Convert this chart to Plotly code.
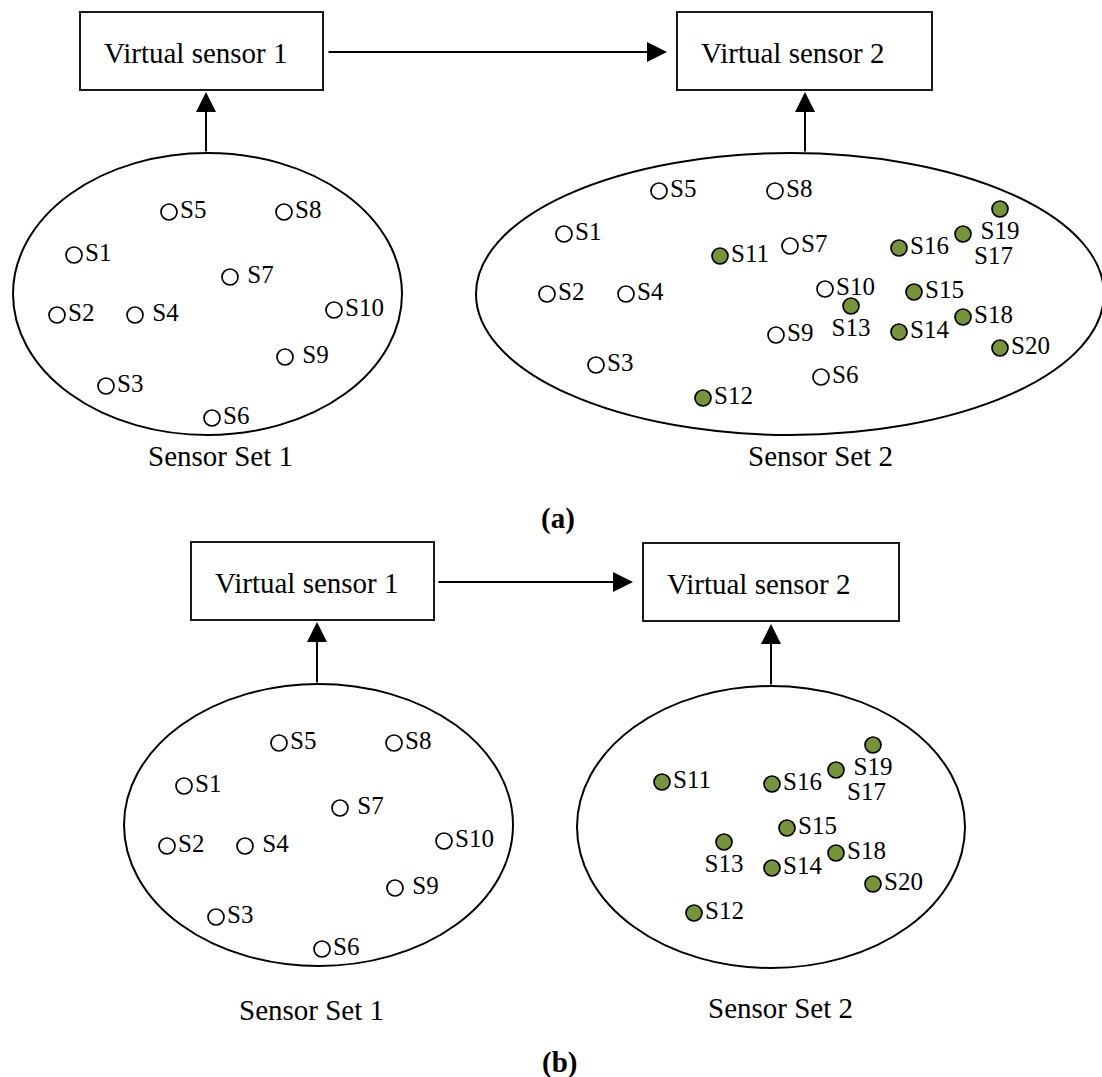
import plotly.graph_objects as go

# ---------------- data ----------------
set1_names = ["S1", "S2", "S3", "S4", "S5", "S6", "S7", "S8", "S9", "S10"]
set2_names = ["S11", "S12", "S13", "S14", "S15", "S16", "S17", "S18", "S19", "S20"]

# panel (a) – sensor set 1
a1_x = [74, 57, 106, 135, 169, 212, 230, 284, 285, 334]
a1_y = [255, 315, 386, 315, 212, 418, 277, 212, 357, 310]
a1_labels = ["S1", "S2", "S3", " S4", "S5", "S6", " S7", "S8", " S9", "S10"]

# panel (a) – sensor set 2 (old sensors, white)
a2w_x = [564, 547, 596, 626, 659, 821, 790, 775, 776, 825]
a2w_y = [234, 294, 365, 294, 191, 377, 246, 191, 335, 289]
# panel (a) – sensor set 2 (new sensors, green)
a2g_x = [720, 703, 851, 899, 914, 899, 963, 963, 1000, 1000]
a2g_y = [256, 398, 306, 332, 292, 248, 234, 317, 209, 348]

# panel (b) – sensor set 1
b1_x = [184, 167, 216, 245, 279, 322, 340, 394, 395, 444]
b1_y = [786, 846, 917, 846, 743, 949, 808, 743, 888, 841]
# panel (b) – sensor set 2 (green only)
b2_x = [662, 694, 724, 772, 787, 772, 836, 836, 873, 873]
b2_y = [782, 913, 842, 868, 828, 784, 770, 853, 745, 884]

green_pos = ["middle right", "middle right", "bottom center", "middle right", "middle right",
             "middle right", "bottom right", "middle right", "bottom center", "middle right"]

# diagram structure (pixel space)
boxes = [(80, 12, 323, 90), (677, 12, 932, 90), (191, 542, 434, 620), (643, 543, 899, 621)]
box_texts = [("Virtual sensor 1", 102, 53), ("Virtual sensor 2", 699, 53),
             ("Virtual sensor 1", 213, 583), ("Virtual sensor 2", 665, 584)]
ellipses = [(13, 153, 402, 435), (476, 153, 1104, 435), (124, 684, 513, 966), (577, 686, 965, 968)]
arrows = [((327, 52), (667, 52)), ((206, 153), (206, 92)), ((805, 153), (805, 92)),
          ((437, 582), (633, 582)), ((317, 684), (317, 622)), ((771, 686), (771, 624))]
captions = [("Sensor Set 1", 220, 456, False), ("Sensor Set 2", 820, 456, False), ("(a)", 558, 518, True),
            ("Sensor Set 1", 311, 1010, False), ("Sensor Set 2", 780, 1008, False), ("(b)", 559, 1062, True)]

W, H = 1102, 1077
FONT = "Liberation Serif, Times New Roman, serif"
GREEN = "#77933C"

fig = go.Figure()

def add_sensors(xs, ys, labels, fill, positions):
    fig.add_trace(go.Scatter(
        x=xs, y=ys, mode="markers+text", text=labels, textposition=positions,
        marker=dict(size=16, color=fill, line=dict(color="black", width=1.7)),
        textfont=dict(family=FONT, size=25, color="black"),
        hoverinfo="skip", cliponaxis=False))

add_sensors(a1_x, a1_y, a1_labels, "white", "middle right")
add_sensors(a2w_x, a2w_y, set1_names, "white", "middle right")
add_sensors(a2g_x, a2g_y, set2_names, GREEN, green_pos)
add_sensors(b1_x, b1_y, a1_labels, "white", "middle right")
add_sensors(b2_x, b2_y, set2_names, GREEN, green_pos)

for (x0, y0, x1, y1) in boxes:
    fig.add_shape(type="rect", x0=x0, y0=y0, x1=x1, y1=y1, xref="x", yref="y",
                  line=dict(color="#1a1a1a", width=2), fillcolor="rgba(0,0,0,0)", layer="below")
for (x0, y0, x1, y1) in ellipses:
    fig.add_shape(type="circle", x0=x0, y0=y0, x1=x1, y1=y1, xref="x", yref="y",
                  line=dict(color="black", width=2), fillcolor="rgba(0,0,0,0)", layer="below")

for (t, x, y) in box_texts:
    fig.add_annotation(x=x, y=y, text=t, showarrow=False, xanchor="left", yanchor="middle",
                       font=dict(family=FONT, size=29, color="black"))
for (t, x, y, bold) in captions:
    fig.add_annotation(x=x, y=y, text=f"<b>{t}</b>" if bold else t, showarrow=False,
                       xanchor="center", yanchor="middle",
                       font=dict(family=FONT, size=29, color="black"))
for (tail, head) in arrows:
    fig.add_annotation(x=head[0], y=head[1], ax=tail[0], ay=tail[1], xref="x", yref="y",
                       axref="x", ayref="y", text="", showarrow=True, arrowhead=2,
                       arrowsize=2, arrowwidth=2, arrowcolor="black", standoff=0)

fig.update_layout(
    width=W, height=H, margin=dict(l=0, r=0, t=0, b=0),
    paper_bgcolor="white", plot_bgcolor="white", showlegend=False,
    xaxis=dict(range=[0, W], visible=False, fixedrange=True),
    yaxis=dict(range=[H, 0], visible=False, fixedrange=True),
)

fig.write_html("out.html", config={"displayModeBar": False},
               post_script="document.body.style.margin='0';")
